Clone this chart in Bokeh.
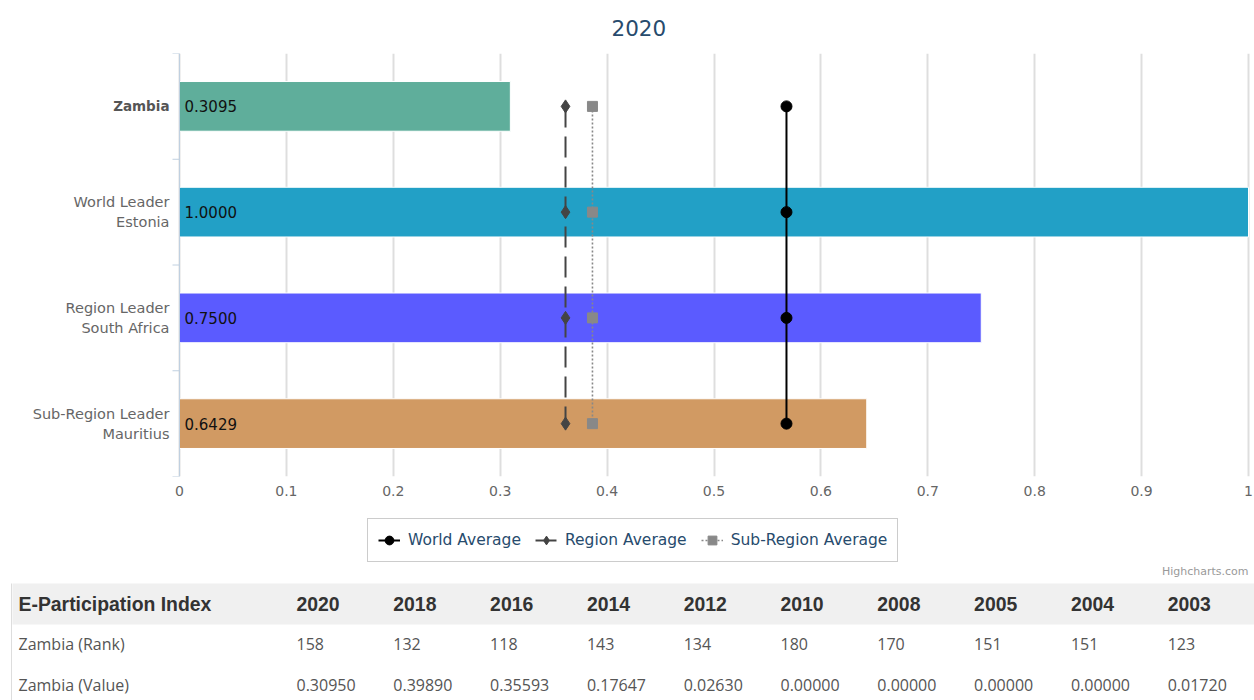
from bokeh.plotting import figure
from bokeh.models import (Range1d, FixedTicker, CustomJSTickFormatter, Span,
                          ColumnDataSource, Legend, LegendItem)
from bokeh.layouts import column
from bokeh.embed import file_html
from bokeh.resources import INLINE
from bokeh.core.properties import value

# ---------------- data ----------------
title_text = "2020"
category_ids = ["Zambia", "Estonia", "South Africa", "Mauritius"]
category_labels = ["Zambia", "World Leader\nEstonia", "Region Leader\nSouth Africa",
                   "Sub-Region Leader\nMauritius"]
bar_values = [0.3095, 1.0, 0.75, 0.6429]
bar_colors = ["#5fae9b", "#22a0c6", "#5b5bff", "#d19a63"]
world_average = 0.5678
region_average = 0.3611
subregion_average = 0.3863
series_names = ["World Average", "Region Average", "Sub-Region Average"]
x_ticks = [0, 0.1, 0.2, 0.3, 0.4, 0.5, 0.6, 0.7, 0.8, 0.9, 1.0]

table_title = "E-Participation Index"
table_years = ["2020", "2018", "2016", "2014", "2012", "2010", "2008", "2005", "2004", "2003"]
rank_label = "Zambia (Rank)"
rank_values = ["158", "132", "118", "143", "134", "180", "170", "151", "151", "123"]
value_label = "Zambia (Value)"
value_values = ["0.30950", "0.39890", "0.35593", "0.17647", "0.02630",
                "0.00000", "0.00000", "0.00000", "0.00000", "0.01720"]
credit_text = "Highcharts.com"

FONT = "DejaVu Sans"
n = len(category_ids)
ypos = [n - 0.5 - i for i in range(n)]   # slot centres, top to bottom

# series styles
W_STYLE = dict(line_color="black", line_width=2)
R_STYLE = dict(line_color="#444444", line_width=2, line_dash="21 9")
S_STYLE = dict(line_color="#888888", line_width=1.6, line_dash="2 2")
W_MARK = dict(marker="circle", size=11, fill_color="black", line_color="black")
R_MARK = dict(marker="diamond", size=13, fill_color="#444444", line_color="#444444")
S_MARK = dict(marker="square", size=10, fill_color="#888888", line_color="#888888")

# ---------------- layout constants (pixels) ----------------
W = 1254
CH = 506            # chart figure height
PLOT_L, PLOT_R = 179, 1248
PX = PLOT_R - PLOT_L
x_lo = -PLOT_L / PX
x_hi = 1 + (W - PLOT_R) / PX

# ---------------- chart ----------------
p = figure(width=W, height=CH, y_range=Range1d(0, n), x_range=Range1d(x_lo, x_hi),
           output_backend="svg", toolbar_location=None, y_axis_location=None,
           min_border_left=0, min_border_right=0, min_border_top=52, min_border_bottom=30)
p.outline_line_color = None
p.background_fill_color = "white"

p.title.text = title_text
p.title.align = "left"
p.title.offset = 611
p.title.standoff = 35
p.title.text_font = FONT
p.title.text_font_size = "21.5px"
p.title.text_font_style = "normal"
p.title.text_color = "#274b6d"

p.xgrid.ticker = FixedTicker(ticks=x_ticks)
p.xgrid.grid_line_color = "#dedede"
p.xgrid.grid_line_width = 2
p.ygrid.visible = False

p.xaxis.ticker = FixedTicker(ticks=x_ticks)
p.xaxis.formatter = CustomJSTickFormatter(code="return String(Math.round(tick*10)/10);")
p.xaxis.axis_line_color = None
p.xaxis.major_tick_line_color = None
p.xaxis.minor_tick_line_color = None
p.xaxis.major_label_text_font = FONT
p.xaxis.major_label_text_font_size = "14px"
p.xaxis.major_label_text_color = "#666666"
p.xaxis.major_label_standoff = 3

# category axis line with ticks at slot boundaries
p.add_layout(Span(location=0, dimension="height", line_color="#c0d0e0", line_width=1))
bounds = list(range(n + 1))
p.segment(x0=[0] * len(bounds), y0=bounds, x1=[-7 / PX] * len(bounds), y1=bounds,
          line_color="#c0d0e0", line_width=1)

# bars
src = ColumnDataSource(dict(y=ypos, val=bar_values, color=bar_colors,
                            txt=["%.4f" % v for v in bar_values]))
p.hbar(y="y", left=0, right="val", height=0.47, fill_color="color", line_color="white",
       line_width=1, source=src)
p.text(x=0, y="y", text="txt", x_offset=5, text_baseline="middle", text_align="left",
       text_font=value(FONT), text_font_size="15px", text_color="#111111", source=src)

# category labels
p.text(x=[0], y=ypos[:1], text=category_labels[:1], x_offset=-10, text_align="right",
       text_baseline="middle", text_font=value(FONT), text_font_size="13.5px",
       text_font_style="bold", text_color="#555555")
p.text(x=[0] * (n - 1), y=ypos[1:], text=category_labels[1:], x_offset=-10,
       text_align="right", text_baseline="middle", text_font=value(FONT),
       text_font_size="14.5px", text_color="#666666", text_line_height=1.26)

# average lines
p.line(x=[world_average] * n, y=ypos, **W_STYLE)
p.scatter(x=[world_average] * n, y=ypos, **W_MARK)
p.line(x=[region_average] * n, y=ypos, **R_STYLE)
p.scatter(x=[region_average] * n, y=ypos, **R_MARK)
p.line(x=[subregion_average] * n, y=ypos, **S_STYLE)
p.scatter(x=[subregion_average] * n, y=ypos, **S_MARK)

# ---------------- legend + table ----------------
TH = 700 - CH
t = figure(width=W, height=TH, x_range=Range1d(0, W), y_range=Range1d(TH, 0),
           output_backend="svg", toolbar_location=None, x_axis_location=None,
           y_axis_location=None, min_border=0)
t.outline_line_color = None
t.grid.visible = False

# legend swatches: renderers placed outside the visible range (only their style is used)
items = []
for name, ls, mk in zip(series_names, [W_STYLE, R_STYLE, S_STYLE], [W_MARK, R_MARK, S_MARK]):
    lr = t.line(x=[-2 * W, -2 * W - 1], y=[-2 * TH, -2 * TH], **ls)
    sr = t.scatter(x=[-2 * W], y=[-2 * TH], **mk)
    items.append(LegendItem(label=name, renderers=[lr, sr]))
legend = Legend(items=items, orientation="horizontal", location=(367, TH - 56),
                label_text_font=FONT, label_text_font_size="15.5px", label_text_color="#274b6d",
                glyph_width=22, glyph_height=22, label_standoff=8, spacing=14,
                padding=10, margin=0, border_line_color="#999999", border_line_width=1,
                background_fill_color="white", background_fill_alpha=1)
t.add_layout(legend)

HEAD_TOP, HEAD_BOT = 77, 118
col_x = [296 + 96.8 * i for i in range(len(table_years))]
t.quad(left=12, right=W, top=HEAD_TOP, bottom=HEAD_BOT, fill_color="#f0f0f0", line_color=None)
t.segment(x0=11, y0=HEAD_TOP, x1=11, y1=TH, line_color="#dddddd", line_width=1)

t.text(x=[1248], y=[65], text=[credit_text], text_align="right", text_baseline="middle",
       text_font=value(FONT), text_font_size="11px", text_color="#999999")

HFONT = "Liberation Sans"
hy = (HEAD_TOP + HEAD_BOT) / 2
t.text(x=[18], y=[hy], text=[table_title], text_baseline="middle", text_font=value(HFONT),
       text_font_size="19.4px", text_font_style="bold", text_color="#333333")
t.text(x=col_x, y=[hy] * len(col_x), text=table_years, text_baseline="middle",
       text_font=value(HFONT), text_font_size="19.4px", text_font_style="bold",
       text_color="#333333")

BFONT = "Open Sans"
for yy, lab, vals in [(137, rank_label, rank_values), (178, value_label, value_values)]:
    t.text(x=[18], y=[yy], text=[lab], text_baseline="middle", text_font=value(BFONT),
           text_font_size="16px", text_color="#555555")
    t.text(x=col_x, y=[yy] * len(col_x), text=vals, text_baseline="middle",
           text_font=value(BFONT), text_font_size="16px", text_color="#555555")

layout = column(p, t, spacing=0)
open("out.html", "w").write(file_html(layout, INLINE))
